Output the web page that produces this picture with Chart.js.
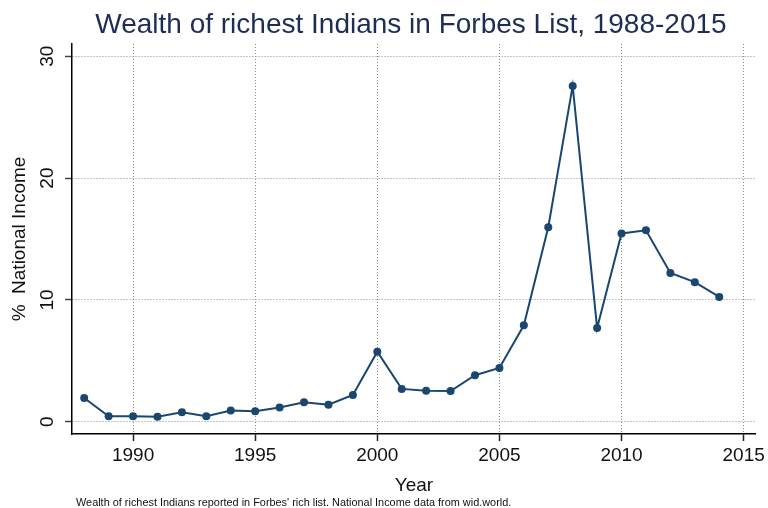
<!DOCTYPE html>
<html lang="en">
<head>
    <meta charset="UTF-8">
    <title>Wealth of richest Indians</title>
    <script src="https://cdn.jsdelivr.net/npm/chart.js"></script>
    <style>
        html, body { margin: 0; padding: 0; background: #fff; }
        #wrap { width: 768px; height: 508px; }
    </style>
</head>
<body>
<div id="wrap"><canvas id="wealthChart" width="768" height="508"></canvas></div>

<script>
    const years = [1988, 1989, 1990, 1991, 1992, 1993, 1994, 1995, 1996, 1997, 1998, 1999, 2000, 2001,
                   2002, 2003, 2004, 2005, 2006, 2007, 2008, 2009, 2010, 2011, 2012, 2013, 2014];
    const shareOfIncome = [1.95, 0.45, 0.45, 0.42, 0.78, 0.45, 0.93, 0.86, 1.18, 1.6, 1.4, 2.2, 5.75, 2.7,
                           2.54, 2.52, 3.82, 4.42, 7.92, 15.97, 27.56, 7.7, 15.45, 15.72, 12.22, 11.46, 10.25];
    const xTicks = [1990, 1995, 2000, 2005, 2010, 2015];
    const yTicks = [0, 10, 20, 30];

    const titleText = 'Wealth of richest Indians in Forbes List, 1988-2015';
    const noteText = "Wealth of richest Indians reported in Forbes' rich list. National Income data from wid.world.";
    const FONT = '"Liberation Sans", Arial, Helvetica, sans-serif';

    // titre et note dessinés à la main (titre centré sur la zone du graphe)
    const textPlugin = {
        id: 'stataText',
        afterDraw(chart) {
            const ctx = chart.ctx;
            const area = chart.chartArea;
            ctx.save();
            ctx.fillStyle = '#1e2d55';
            ctx.font = '28px ' + FONT;
            ctx.textAlign = 'center';
            ctx.textBaseline = 'middle';
            ctx.fillText(titleText, (area.left + area.right) / 2 - 3, 25);
            ctx.fillStyle = '#111';
            ctx.font = '10.9px ' + FONT;
            ctx.textAlign = 'left';
            ctx.textBaseline = 'middle';
            ctx.fillText(noteText, 76, 503);
            ctx.restore();
        }
    };

    const points = years.map((y, i) => ({x: y, y: shareOfIncome[i]}));

    new Chart(document.getElementById('wealthChart').getContext('2d'), {
        type: 'line',
        data: {
            datasets: [{
                data: points,
                borderColor: '#1a476f',
                backgroundColor: '#1a476f',
                borderWidth: 2,
                pointRadius: 4,
                pointHoverRadius: 4,
                pointBorderWidth: 0,
                tension: 0
            }]
        },
        options: {
            responsive: false,
            animation: false,
            layout: { padding: { top: 44, right: 12, left: 0, bottom: 0 } },
            plugins: {
                legend: { display: false },
                tooltip: { enabled: false },
                title: { display: false }
            },
            scales: {
                x: {
                    type: 'linear',
                    min: 1987.5,
                    max: 2015.5,
                    afterFit: s => { s.height = 74; },
                    afterBuildTicks: s => { s.ticks = xTicks.map(v => ({value: v})); },
                    grid: {
                        color: '#8c8c8c',
                        lineWidth: 1,
                        tickLength: 7,
                        tickColor: '#222',
                        tickWidth: 1.5,
                        tickBorderDash: []
                    },
                    border: { color: '#000', width: 1.5, dash: [1, 2] },
                    ticks: {
                        color: '#111',
                        font: { family: FONT, size: 19 },
                        padding: 3,
                        maxRotation: 0,
                        callback: v => String(v)
                    },
                    title: {
                        display: true,
                        text: 'Year',
                        color: '#111',
                        font: { family: FONT, size: 19 },
                        padding: { top: 0, bottom: 11 }
                    }
                },
                y: {
                    min: -1,
                    max: 31,
                    afterFit: s => { s.width = 72; },
                    afterBuildTicks: s => { s.ticks = yTicks.map(v => ({value: v})); },
                    grid: {
                        color: '#8c8c8c',
                        lineWidth: 1,
                        tickLength: 7,
                        tickColor: '#444',
                        tickWidth: 1.5,
                        tickBorderDash: []
                    },
                    border: { color: '#000', width: 1.5, dash: [1, 2] },
                    ticks: {
                        color: '#111',
                        font: { family: FONT, size: 19 },
                        padding: 7,
                        minRotation: 90,
                        maxRotation: 90,
                        crossAlign: 'center'
                    },
                    title: {
                        display: true,
                        text: '%  National Income',
                        color: '#111',
                        font: { family: FONT, size: 19 },
                        padding: { top: 8, bottom: 0 }
                    }
                }
            }
        },
        plugins: [textPlugin]
    });
</script>
</body>
</html>
